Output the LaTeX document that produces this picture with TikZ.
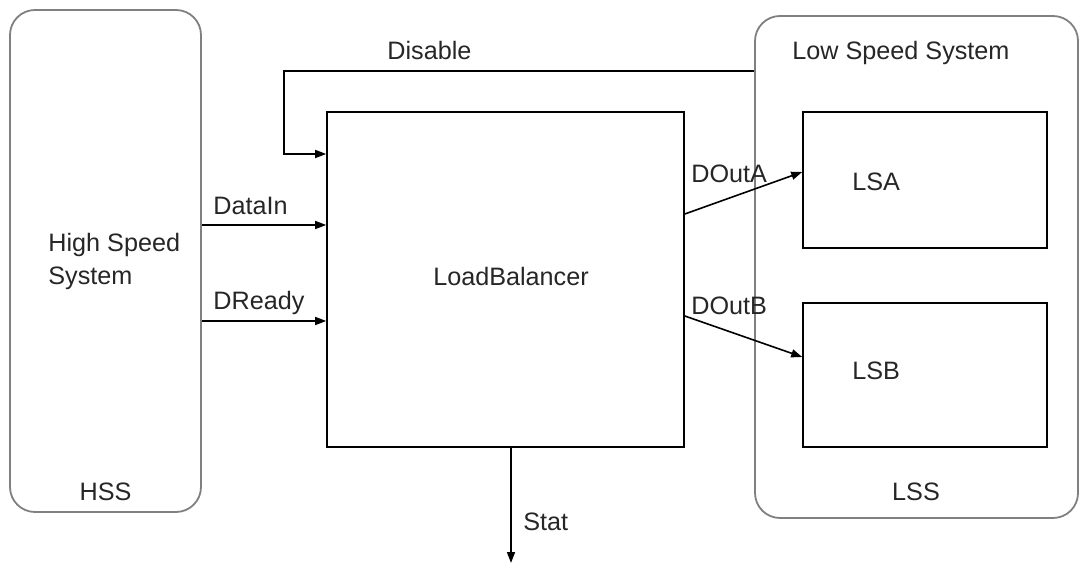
\documentclass[tikz,border=0pt]{standalone}
\usepackage{fontspec}
\setmainfont{Liberation Sans}
\usetikzlibrary{arrows.meta, fit}

\begin{document}
\begin{tikzpicture}[x=0.5pt, y=-0.5pt,
    every node/.style={font=\fontsize{12.6}{16.5}\selectfont, text=black!85},
    sysbox/.style={draw=black!50, line width=0.9pt, rounded corners=12.5pt, inner sep=0pt},
    blockbox/.style={draw=black, line width=0.8pt, inner sep=0pt},
    lbl/.style={anchor=base west, inner sep=0pt},
    tag/.style={anchor=base, inner sep=0pt},
    sig/.style={draw=black, line width=0.8pt, -{Triangle[length=5.5pt, width=4pt]}}]
        \useasboundingbox (0,0) rectangle (1079,565);

        % The two systems
        \node[sysbox, fit={(10,10) (201,512)}] (hss) {};
        \node[sysbox, fit={(755,16) (1078,518)}] (lss) {};
        \node[lbl, anchor=north west, align=left] (hssname) at (48,233) {High Speed\\System};
        \node[tag] (hsstag) at (105.5,500) {HSS};
        \node[lbl] (lssname) at (792,60) {Low Speed System};
        \node[tag] (lsstag) at (916,500) {LSS};

        % Balancer and the two low speed units
        \node[blockbox, fit={(327,112) (684,447)}] (lb) {};
        \node[tag] (lbname) at (511,286) {LoadBalancer};
        \node[blockbox, fit={(803,112) (1047,248)}] (lsa) {};
        \node[lbl] (lsaname) at (852,191) {LSA};
        \node[blockbox, fit={(803,303) (1047,447)}] (lsb) {};
        \node[lbl] (lsbname) at (852,380) {LSB};

        % Disable feedback
        \draw[sig] (lss.west |- 0,71) -| (284,154) -- (lb.west |- 0,154);
        \node[lbl] (disable) at (387,60) {Disable};

        % Inputs
        \draw[sig] (hss.east |- 0,225) -- (lb.west |- 0,225);
        \node[lbl] (datain) at (213,215) {DataIn};
        \draw[sig] (hss.east |- 0,321) -- (lb.west |- 0,321);
        \node[lbl] (dready) at (213,310) {DReady};

        % Outputs
        \draw[sig] (lb.east |- 0,214) -- (lsa.west |- 0,172);
        \node[lbl] (douta) at (691,183) {DOutA};
        \draw[sig] (lb.east |- 0,316) -- (lsb.west |- 0,357);
        \node[lbl] (doutb) at (691,315) {DOutB};

        \coordinate (statend) at (511,563);
        \draw[sig] (lb.south -| statend) -- (statend);
        \node[lbl] (stat) at (523,530) {Stat};
    \end{tikzpicture}
\end{document}
